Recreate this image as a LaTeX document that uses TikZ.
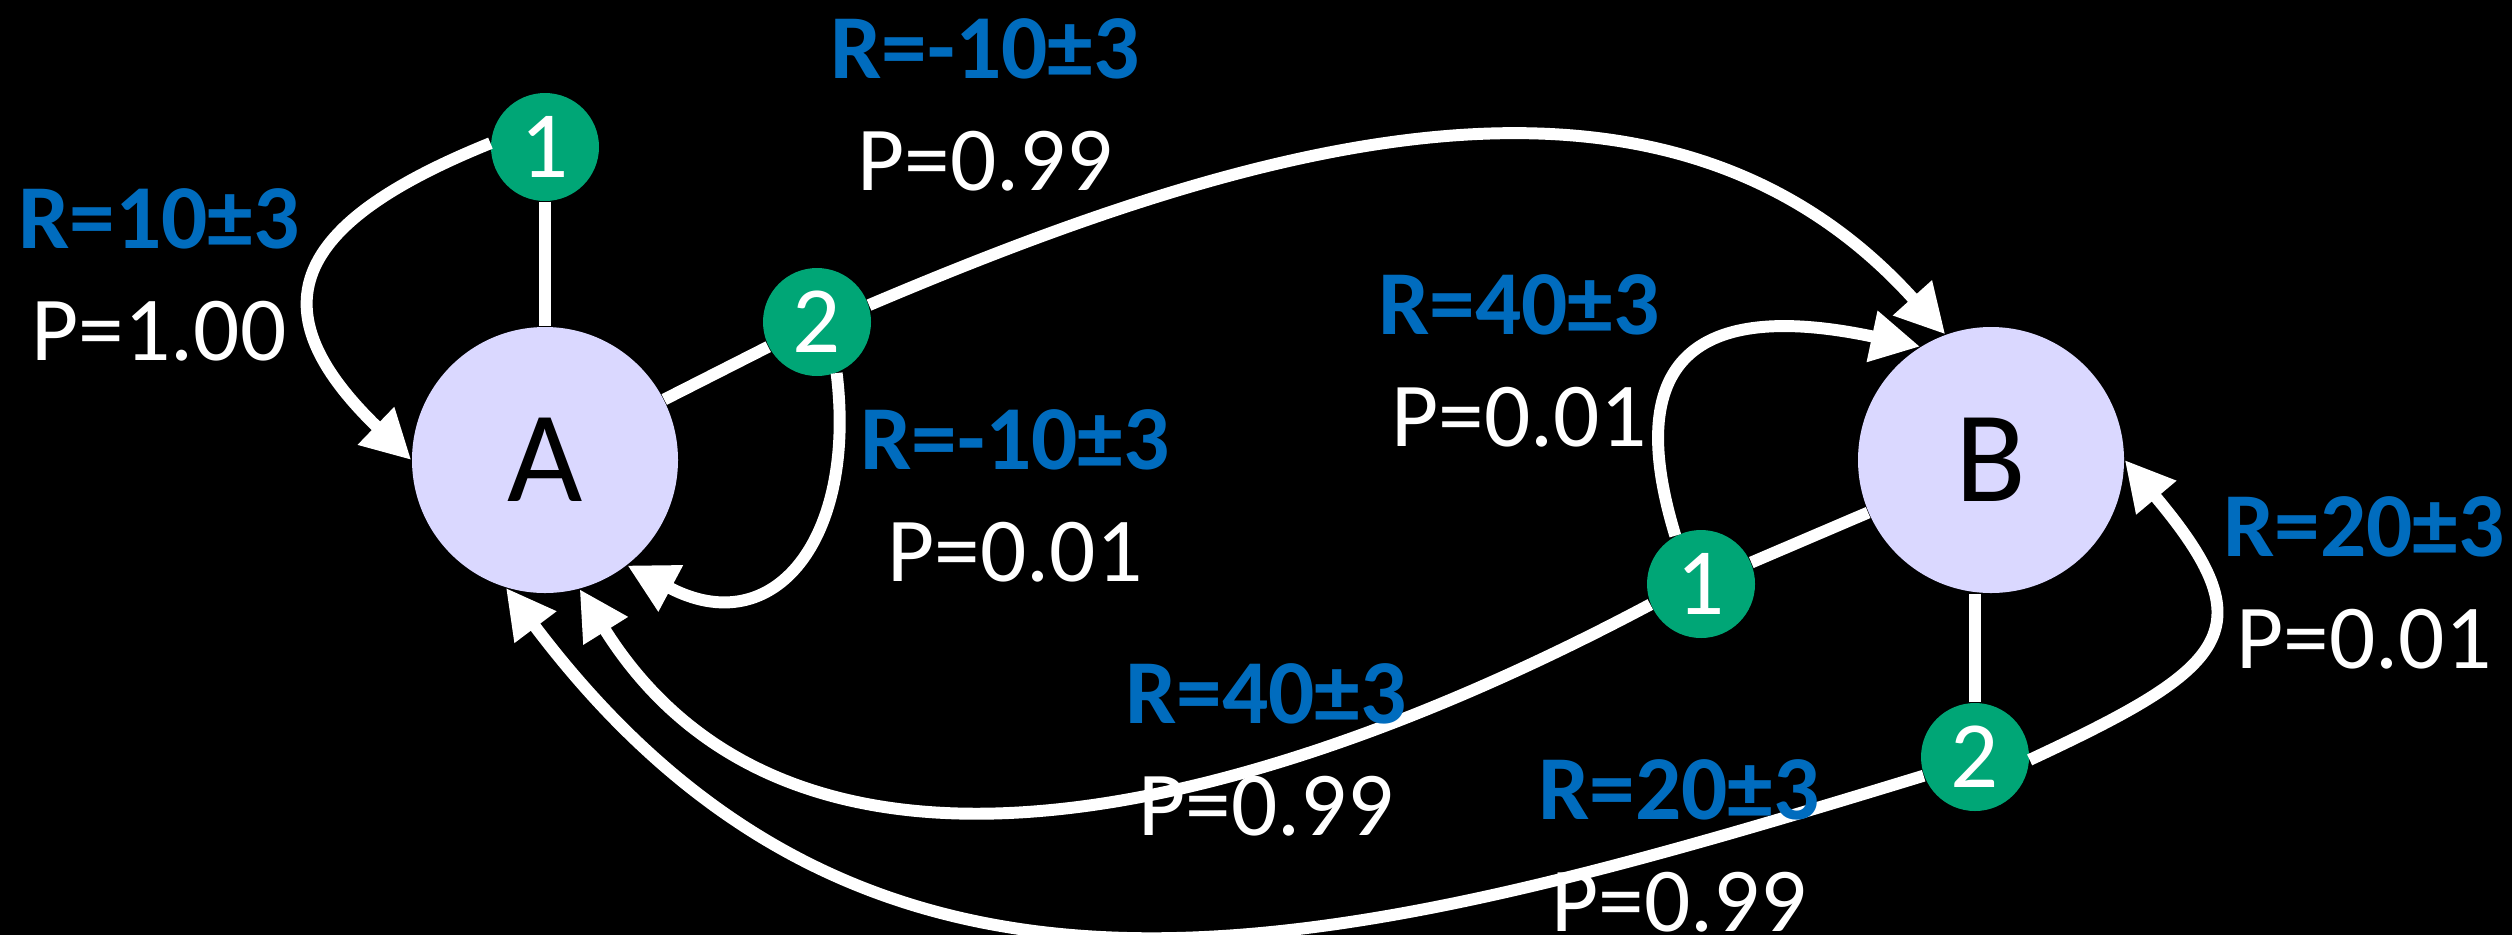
\documentclass[tikz,border=0pt]{standalone}
\usepackage{fontspec}
\setmainfont{Carlito}
\usetikzlibrary{arrows.meta}
\definecolor{statefill}{RGB}{218,216,255}
\definecolor{actiongreen}{RGB}{0,166,118}
\definecolor{rewardblue}{RGB}{0,108,190}

\begin{document}
\begin{tikzpicture}[
        state/.style={circle, fill=statefill, minimum size=2.66cm, inner sep=0pt, font=\fontsize{37}{40}\selectfont},
        action/.style={circle, fill=actiongreen, text=white, minimum size=1.08cm, inner sep=0pt, font=\fontsize{27}{30}\selectfont},
        outcome/.style={align=center, text=white, inner sep=0pt, font=\fontsize{26}{32}\selectfont},
        link/.style={white, line width=3.4pt},
        move/.style={link, -{Triangle[length=14pt, width=14pt]}},
    ]
        % Background
        \fill[black] (0, 0) rectangle (25.12, -9.35);
        \useasboundingbox (0, 0) rectangle (25.12, -9.35);

        % States
        \node[state] (A) at (5.45, -4.60) {A};
        \node[state] (B) at (19.91, -4.60) {B};

        % Actions
        \node[action] (a1) at (5.45, -1.47) {1};
        \node[action] (a2) at (8.17, -3.22) {2};
        \node[action] (b1) at (17.01, -5.84) {1};
        \node[action] (b2) at (19.75, -7.57) {2};

        % State to action
        \draw[link] (a1) -- (A);
        \draw[link] (A) -- (a2);
        \draw[link] (B) -- (b1);
        \draw[link] (b2.north) -- (b2.north |- B.south);

        % Transitions
        \draw[move] (a1.176) to[out=202, in=136, looseness=1.7] (A.west);
        \draw[move] (a2.18) to[out=23, in=132] (B.110);
        \draw[move] (a2.-69) to[out=-83, in=-28, looseness=1.5] (A.-52);
        \draw[move] (b1.118) to[out=107, in=168, looseness=1.7] (B.122);
        \draw[move] (b2.-3) to[out=25, in=-50, looseness=1.8] (B.east);
        \draw[move] (b1.202) to[out=208, in=-58] (A.-75);
        \draw[move] (b2.200) to[out=197, in=-53, looseness=1.1] (A.-107);

        % Rewards and probabilities
        \node[outcome] (a1out) at (1.59, -2.75) {{\color{rewardblue}\bfseries R=10±3}\\P=1.00};
        \node[outcome] (a2outB) at (9.85, -1.05) {{\color{rewardblue}\bfseries R=-10±3}\\P=0.99};
        \node[outcome] (a2outA) at (10.15, -4.96) {{\color{rewardblue}\bfseries R=-10±3}\\P=0.01};
        \node[outcome] (b1outB) at (15.19, -3.61) {{\color{rewardblue}\bfseries R=40±3}\\P=0.01};
        \node[outcome] (b1outA) at (12.66, -7.50) {{\color{rewardblue}\bfseries R=40±3}\\P=0.99};
        \node[outcome] (b2outB) at (23.64, -5.83) {{\color{rewardblue}\bfseries R=20±3}\\P=0.01};
        \node[outcome] (b2outA) at (16.79, -8.46) {{\color{rewardblue}\bfseries R=20±3}\\P=0.99};

    \end{tikzpicture}
\end{document}
